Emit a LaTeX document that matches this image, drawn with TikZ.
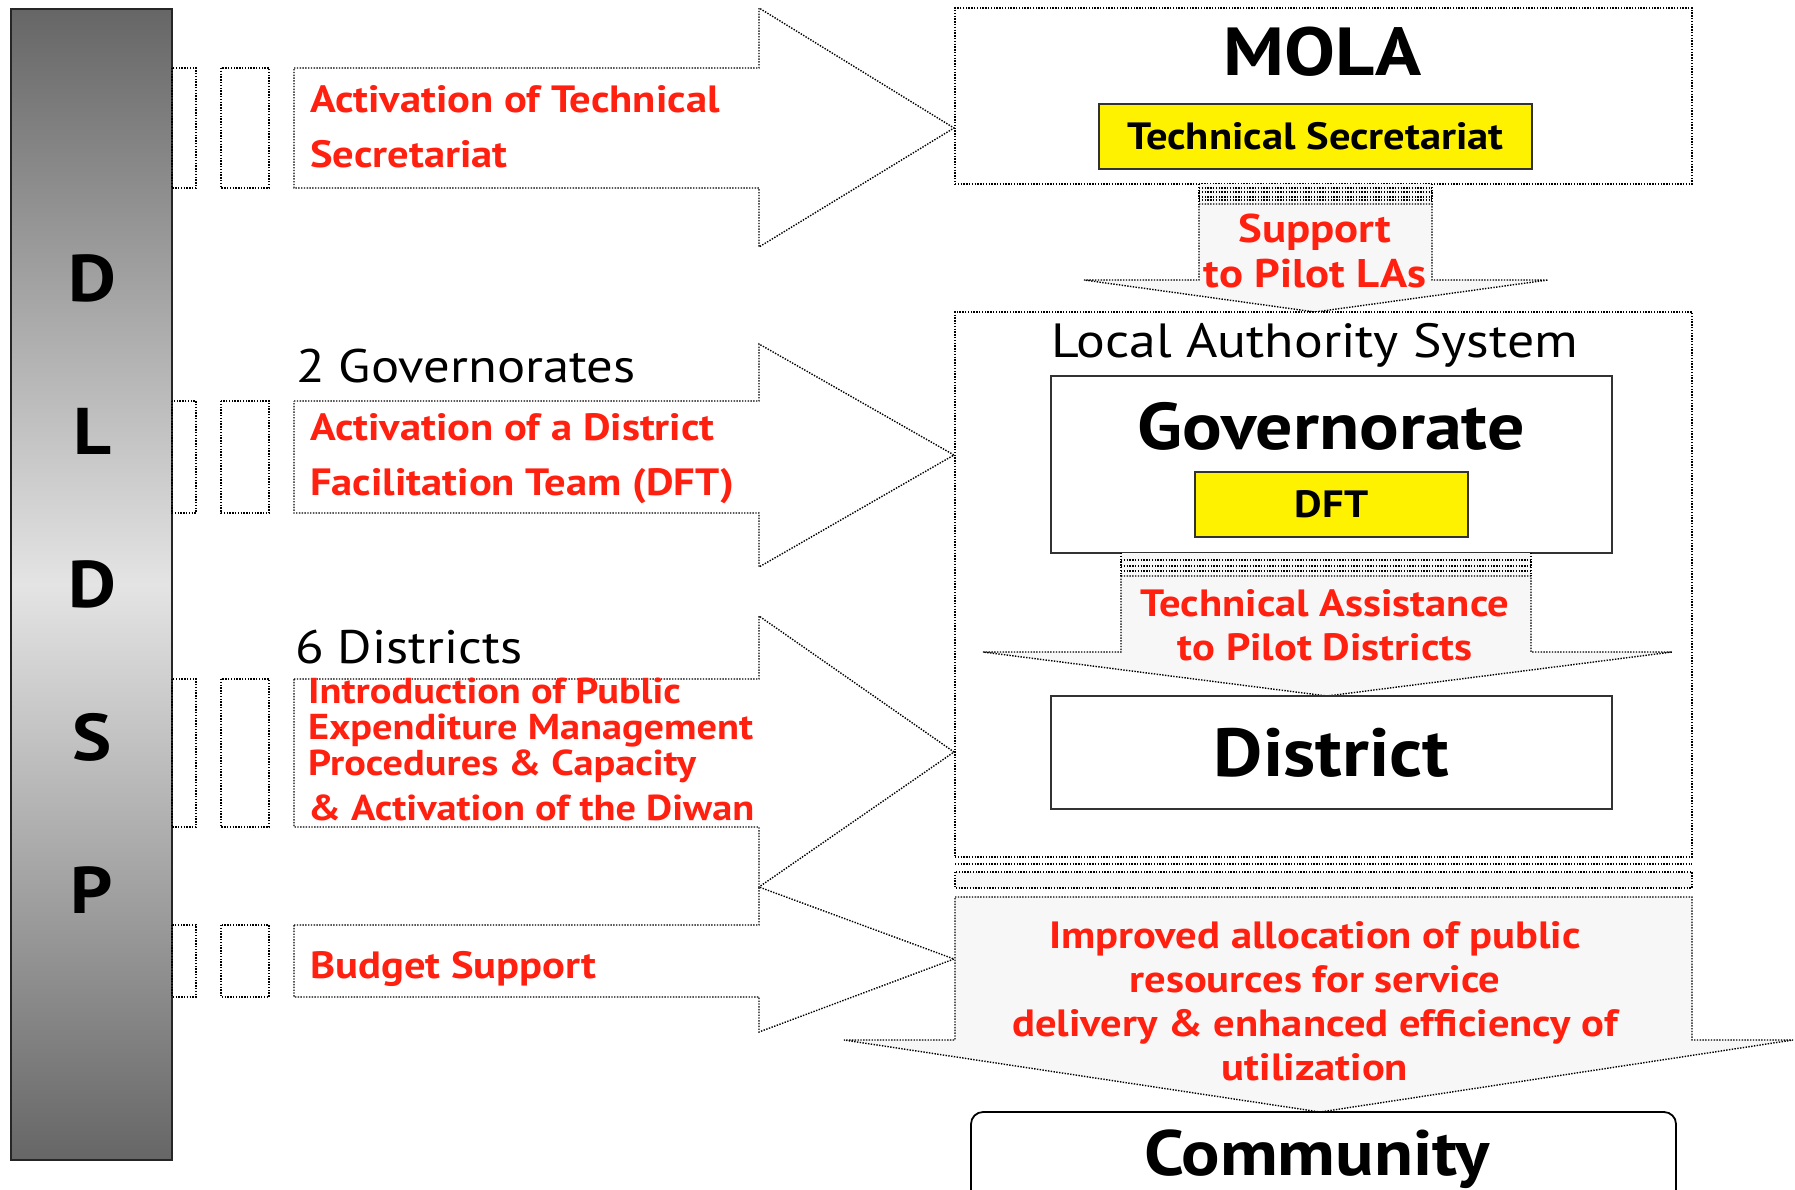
\documentclass[tikz,border=0pt]{standalone}
\usepackage{fontspec}
\setmainfont{PT Sans}[FakeStretch=1.12]
\usetikzlibrary{positioning}
\definecolor{actred}{RGB}{255,32,16}
\definecolor{pale}{RGB}{247,247,247}
\definecolor{barend}{RGB}{102,102,102}
\definecolor{barmid}{RGB}{228,228,228}
\definecolor{boxline}{RGB}{50,50,50}
\tikzset{%
  dots/.style = {draw=black, line width=1.4pt, dash pattern=on 1.4pt off 1.4pt},
  bigarrow/.style = {dots, fill=white},
  downarrow/.style = {dots, fill=pale},
  outer/.style = {dots, fill=white, inner sep=0pt},
  unit/.style = {draw=boxline, line width=1.8pt, fill=white, inner sep=0pt},
  tag/.style = {unit, fill=yellow, font=\bfseries\fontsize{38}{38}\selectfont},
  act/.style = {text=actred, font=\bfseries\fontsize{38}{55}\selectfont,
        align=left, anchor=base west, inner sep=0pt},
  flow/.style = {text=actred, font=\bfseries\fontsize{38}{44}\selectfont,
        align=center, anchor=base, inner sep=0pt},
  scope/.style = {font=\fontsize{47}{47}\selectfont, anchor=base west, inner sep=0pt},
  barletter/.style = {font=\bfseries\fontsize{66}{66}\selectfont, inner sep=0pt}
}
\begin{document}
\begin{tikzpicture}[x=1pt, y=-1pt]
    \clip (0,0) rectangle (1795,1189);
    \fill[white] (0,0) rectangle (1795,1189);

    % programme bar
    \node[draw=black!85, line width=1.5pt, top color=barend, bottom color=barend,
        middle color=barmid, minimum width=161pt, minimum height=1151pt,
        inner sep=0pt] (dldsp) at (91.5,584.5) {};
    \foreach \ch [count=\i] in {D,L,D,S,P}
        \node[barletter] (bar-\i) at (92,278+153*\i-153) {\ch};

    % interventions (last baseline given for multi-line texts)
    \foreach \top/\bot/\htop/\hbot/\tip in {68/188/8/247/128, 401/513/344/567/455,
            679/827/616/887/752, 925/997/887/1032/959} {
        \draw[dots] (172,\top) rectangle (196,\bot);
        \draw[dots] (221,\top) rectangle (269,\bot);
        \draw[bigarrow] (294,\top) -- (759,\top) -- (759,\htop) -- (954,\tip)
            -- (759,\hbot) -- (759,\bot) -- (294,\bot) -- cycle;
    }
    \node[act] (act-1) at (310,167) {Activation of Technical\\Secretariat};
    \node[scope] (gov-n) at (296,382) {2 Governorates};
    \node[act] (act-2) at (310,495) {Activation of a District\\Facilitation Team (DFT)};
    \node[scope] (dist-n) at (295,663) {6 Districts};
    \node[act, font=\bfseries\fontsize{36}{36}\selectfont] (act-3) at (308,820)
        {Introduction of Public\\Expenditure Management\\Procedures \& Capacity\\[9pt]\& Activation of the Diwan};
    \node[act] (act-4) at (310,978) {Budget Support};

    % MOLA
    \node[outer, minimum width=737pt, minimum height=176pt] (mola) at (1323.5,96) {};
    \node[font=\bfseries\fontsize{68}{68}\selectfont, anchor=base, inner sep=0pt]
        (mola-t) at (1323,75) {MOLA};
    \node[tag, minimum width=433pt, minimum height=65pt] (ts) at (1315.5,136.5)
        {Technical Secretariat};

    % support to LAs
    \fill[pale] (1199,184) rectangle (1432,204);
    \foreach \y in {188,192,197,200}
        \draw[dots] (1199,\y) -- (1432,\y);
    \draw[dots] (1199,184) -- (1199,204) (1432,184) -- (1432,204);
    \draw[downarrow] (1199,204) -- (1432,204) -- (1432,280) -- (1548,280)
        -- (1315,312) -- (1084,280) -- (1199,280) -- cycle;
    \node[flow, font=\bfseries\fontsize{40}{45}\selectfont] (sup-t) at (1315,287)
        {Support\\to Pilot LAs};

    % local authority system
    \node[outer, minimum width=737pt, minimum height=545pt] (las) at (1323.5,584.5) {};
    \node[font=\fontsize{48}{48}\selectfont, anchor=base, inner sep=0pt]
        (las-t) at (1315,357) {Local Authority System};
    \node[unit, minimum width=561pt, minimum height=177pt] (gov) at (1331.5,464.5) {};
    \node[font=\bfseries\fontsize{66}{66}\selectfont, anchor=base, inner sep=0pt]
        (gov-t) at (1331,449) {Governorate};
    \node[tag, minimum width=273pt, minimum height=65pt] (dft) at (1331.5,504.5) {DFT};

    \fill[pale] (1121,553) rectangle (1531,576);
    \foreach \y in {560,566,571}
        \draw[dots] (1121,\y) -- (1531,\y);
    \draw[dots] (1121,553) -- (1121,576) (1531,553) -- (1531,576);
    \draw[downarrow] (1121,576) -- (1531,576) -- (1531,652) -- (1672,652)
        -- (1327,696) -- (983,652) -- (1121,652) -- cycle;
    \node[flow] (ta-t) at (1325,660) {Technical Assistance\\to Pilot Districts};

    \node[unit, minimum width=561pt, minimum height=113pt,
        font=\bfseries\fontsize{68}{68}\selectfont] (district) at (1331.5,752.5) {District};

    % outcome
    \draw[dots] (955,864) -- (1692,864);
    \draw[dots, fill=pale] (955,872) rectangle (1692,888);
    \draw[downarrow] (955,897) -- (1692,897) -- (1692,1040) -- (1793,1040)
        -- (1320,1112) -- (844,1040) -- (955,1040) -- cycle;
    \node[flow] (out-t) at (1315,1080)
        {Improved allocation of public\\resources for service\\delivery \& enhanced efficiency of\\utilization};

    \draw[draw=black, line width=1.8pt, rounded corners=12pt] (971,1112) rectangle (1676,1220);
    \node[font=\bfseries\fontsize{64}{64}\selectfont, anchor=base, inner sep=0pt]
        (comm) at (1317,1175) {Community};
\end{tikzpicture}
\end{document}
